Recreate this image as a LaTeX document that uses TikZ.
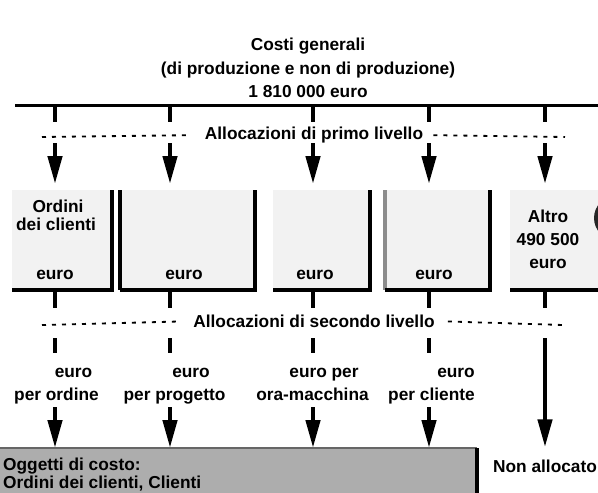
\documentclass[tikz,border=0pt]{standalone}
\usepackage{fontspec}
\setmainfont{Liberation Sans}
\usepackage{tikz}
\usetikzlibrary{arrows.meta, positioning, calc}
\newcommand{\lblfont}{\fontsize{17.3}{20}\selectfont\bfseries}

\begin{document}
\begin{tikzpicture}[
        x=1pt, y=-1pt,
        lbl/.style={font=\lblfont, inner sep=0pt, anchor=base},
        costbox/.style={fill=black!5, inner sep=0pt, anchor=north west, minimum height=100pt},
        boxedge/.style={line width=4pt},
        stub/.style={line width=4.5pt},
        alloc/.style={line width=4.5pt, -{Triangle[length=28pt,width=14pt]}},
        levelline/.style={line width=1.8pt, dash pattern=on 4pt off 6pt}
    ]
        \useasboundingbox (0,0) rectangle (598,493);
        \clip (0,0) rectangle (598,493);

        % Total cost pool
        \node[lbl] (title1) at (308,50) {Costi generali};
        \node[lbl] (title2) at (308,74) {(di produzione e non di produzione)};
        \node[lbl] (title3) at (308,97) {1 810 000 euro};
        \coordinate (barL) at (15,105);
        \coordinate (barR) at (598,105);
        \draw[line width=3pt] (barL) -- (barR);

        % Column positions on the bar
        \coordinate (c1) at (55,105);
        \coordinate (c2) at (170,105);
        \coordinate (c3) at (313,105);
        \coordinate (c4) at (429,105);
        \coordinate (c5) at (545,105);
        \draw[stub] (c1) -- ++(0,17);
        \draw[stub] (c2) -- ++(0,17);
        \draw[stub] (c3) -- ++(0,17);
        \draw[stub] (c4) -- ++(0,17);
        \draw[stub] (c5) -- ++(0,17);

        % First level allocation
        \node[lbl, anchor=mid] (alloc1) at (314,137) {Allocazioni di primo livello};
        \coordinate (lev1L) at (42,137);
        \coordinate (lev1R) at (565,137);
        \draw[levelline] (lev1L) -- ([xshift=-14pt]alloc1.west);
        \draw[levelline] ([xshift=10pt]alloc1.east) -- (lev1R);

        % Cost pools
        \node[costbox, minimum width=100pt] (ordini) at (12,190) {};
        \node[costbox, minimum width=135pt] (progetti) at (120,190) {};
        \node[costbox, minimum width=97pt] (macchine) at (273,190) {};
        \node[costbox, minimum width=105pt] (clienti) at (385,190) {};
        \node[costbox, minimum width=100pt] (altro) at (510,190) {};
        \draw[boxedge] (ordini.south west) -- (ordini.south east) -- (ordini.north east);
        \draw[boxedge] (progetti.north west) -- (progetti.south west);
        \draw[boxedge] (progetti.south west) -- (progetti.south east) -- (progetti.north east);
        \draw[boxedge] (macchine.south west) -- (macchine.south east) -- (macchine.north east);
        \draw[boxedge, black!45] (clienti.north west) -- (clienti.south west);
        \draw[boxedge] (clienti.south west) -- (clienti.south east) -- (clienti.north east);
        \draw[boxedge] (altro.south west) -- (altro.south east);
        \fill[black!85] (616,218) circle (22pt);

        \draw[alloc, shorten >=6pt] (c1 |- 0,143) -- (c1 |- ordini.north);
        \draw[alloc, shorten >=6pt] (c2 |- 0,143) -- (c2 |- progetti.north);
        \draw[alloc, shorten >=6pt] (c3 |- 0,143) -- (c3 |- macchine.north);
        \draw[alloc, shorten >=6pt] (c4 |- 0,143) -- (c4 |- clienti.north);
        \draw[alloc, shorten >=6pt] (c5 |- 0,143) -- (c5 |- altro.north);

        \node[lbl] (ordini1) at (58,212) {Ordini};
        \node[lbl] (ordini2) at (56,230) {dei clienti};
        \node[lbl] (ordini3) at (55,279) {euro};
        \node[lbl] (progetti1) at (184,279) {euro};
        \node[lbl] (macchine1) at (315,279) {euro};
        \node[lbl] (clienti1) at (434,279) {euro};
        \node[lbl] (altro1) at (548,222) {Altro};
        \node[lbl] (altro2) at (548,245) {490 500};
        \node[lbl] (altro3) at (548,268) {euro};

        \draw[stub] (c1 |- ordini.south) -- ++(0,18);
        \draw[stub] (c2 |- progetti.south) -- ++(0,18);
        \draw[stub] (c3 |- macchine.south) -- ++(0,18);
        \draw[stub] (c4 |- clienti.south) -- ++(0,18);
        \draw[stub] (c5 |- altro.south) -- ++(0,18);

        % Second level allocation
        \node[lbl, anchor=mid] (alloc2) at (314,325) {Allocazioni di secondo livello};
        \coordinate (lev2L) at (42,325);
        \coordinate (lev2R) at (563,325);
        \draw[levelline] (lev2L) -- ([xshift=-13pt]alloc2.west);
        \draw[levelline] ([xshift=13pt]alloc2.east) -- (lev2R);

        \draw[stub] (c1 |- 0,338) -- (c1 |- 0,353);
        \draw[stub] (c2 |- 0,338) -- (c2 |- 0,353);
        \draw[stub] (c3 |- 0,338) -- (c3 |- 0,353);
        \draw[stub] (c4 |- 0,338) -- (c4 |- 0,353);

        % Rates
        \node[lbl] (ordine1) at (73.5,377) {euro};
        \node[lbl] (ordine2) at (56.5,400) {per ordine};
        \node[lbl] (progetto1) at (191,377) {euro};
        \node[lbl] (progetto2) at (174.5,400) {per progetto};
        \node[lbl] (macchina1) at (324,377) {euro per};
        \node[lbl] (macchina2) at (312.5,400) {ora-macchina};
        \node[lbl] (cliente1) at (456,377) {euro};
        \node[lbl] (cliente2) at (431.5,400) {per cliente};

        % Cost objects
        \node[costbox, fill=black!32, minimum width=487pt, minimum height=60pt] (oggetti) at (-10,448) {};
        \draw[line width=2pt, black!60] (oggetti.north west) -- (oggetti.north east);
        \draw[boxedge] (oggetti.north east) -- (oggetti.south east);
        \node[lbl, anchor=base west] (oggetti1) at (3,470) {Oggetti di costo:};
        \node[lbl, anchor=base west] (oggetti2) at (3,488) {Ordini dei clienti, Clienti};
        \node[lbl] (nonalloc) at (545,472) {Non allocato};

        \draw[alloc] (c1 |- 0,407) -- (c1 |- oggetti.north);
        \draw[alloc] (c2 |- 0,407) -- (c2 |- oggetti.north);
        \draw[alloc] (c3 |- 0,407) -- (c3 |- oggetti.north);
        \draw[alloc] (c4 |- 0,407) -- (c4 |- oggetti.north);
        \draw[alloc, shorten >=12pt] (c5 |- 0,338) -- (nonalloc.north);
\end{tikzpicture}
\end{document}
